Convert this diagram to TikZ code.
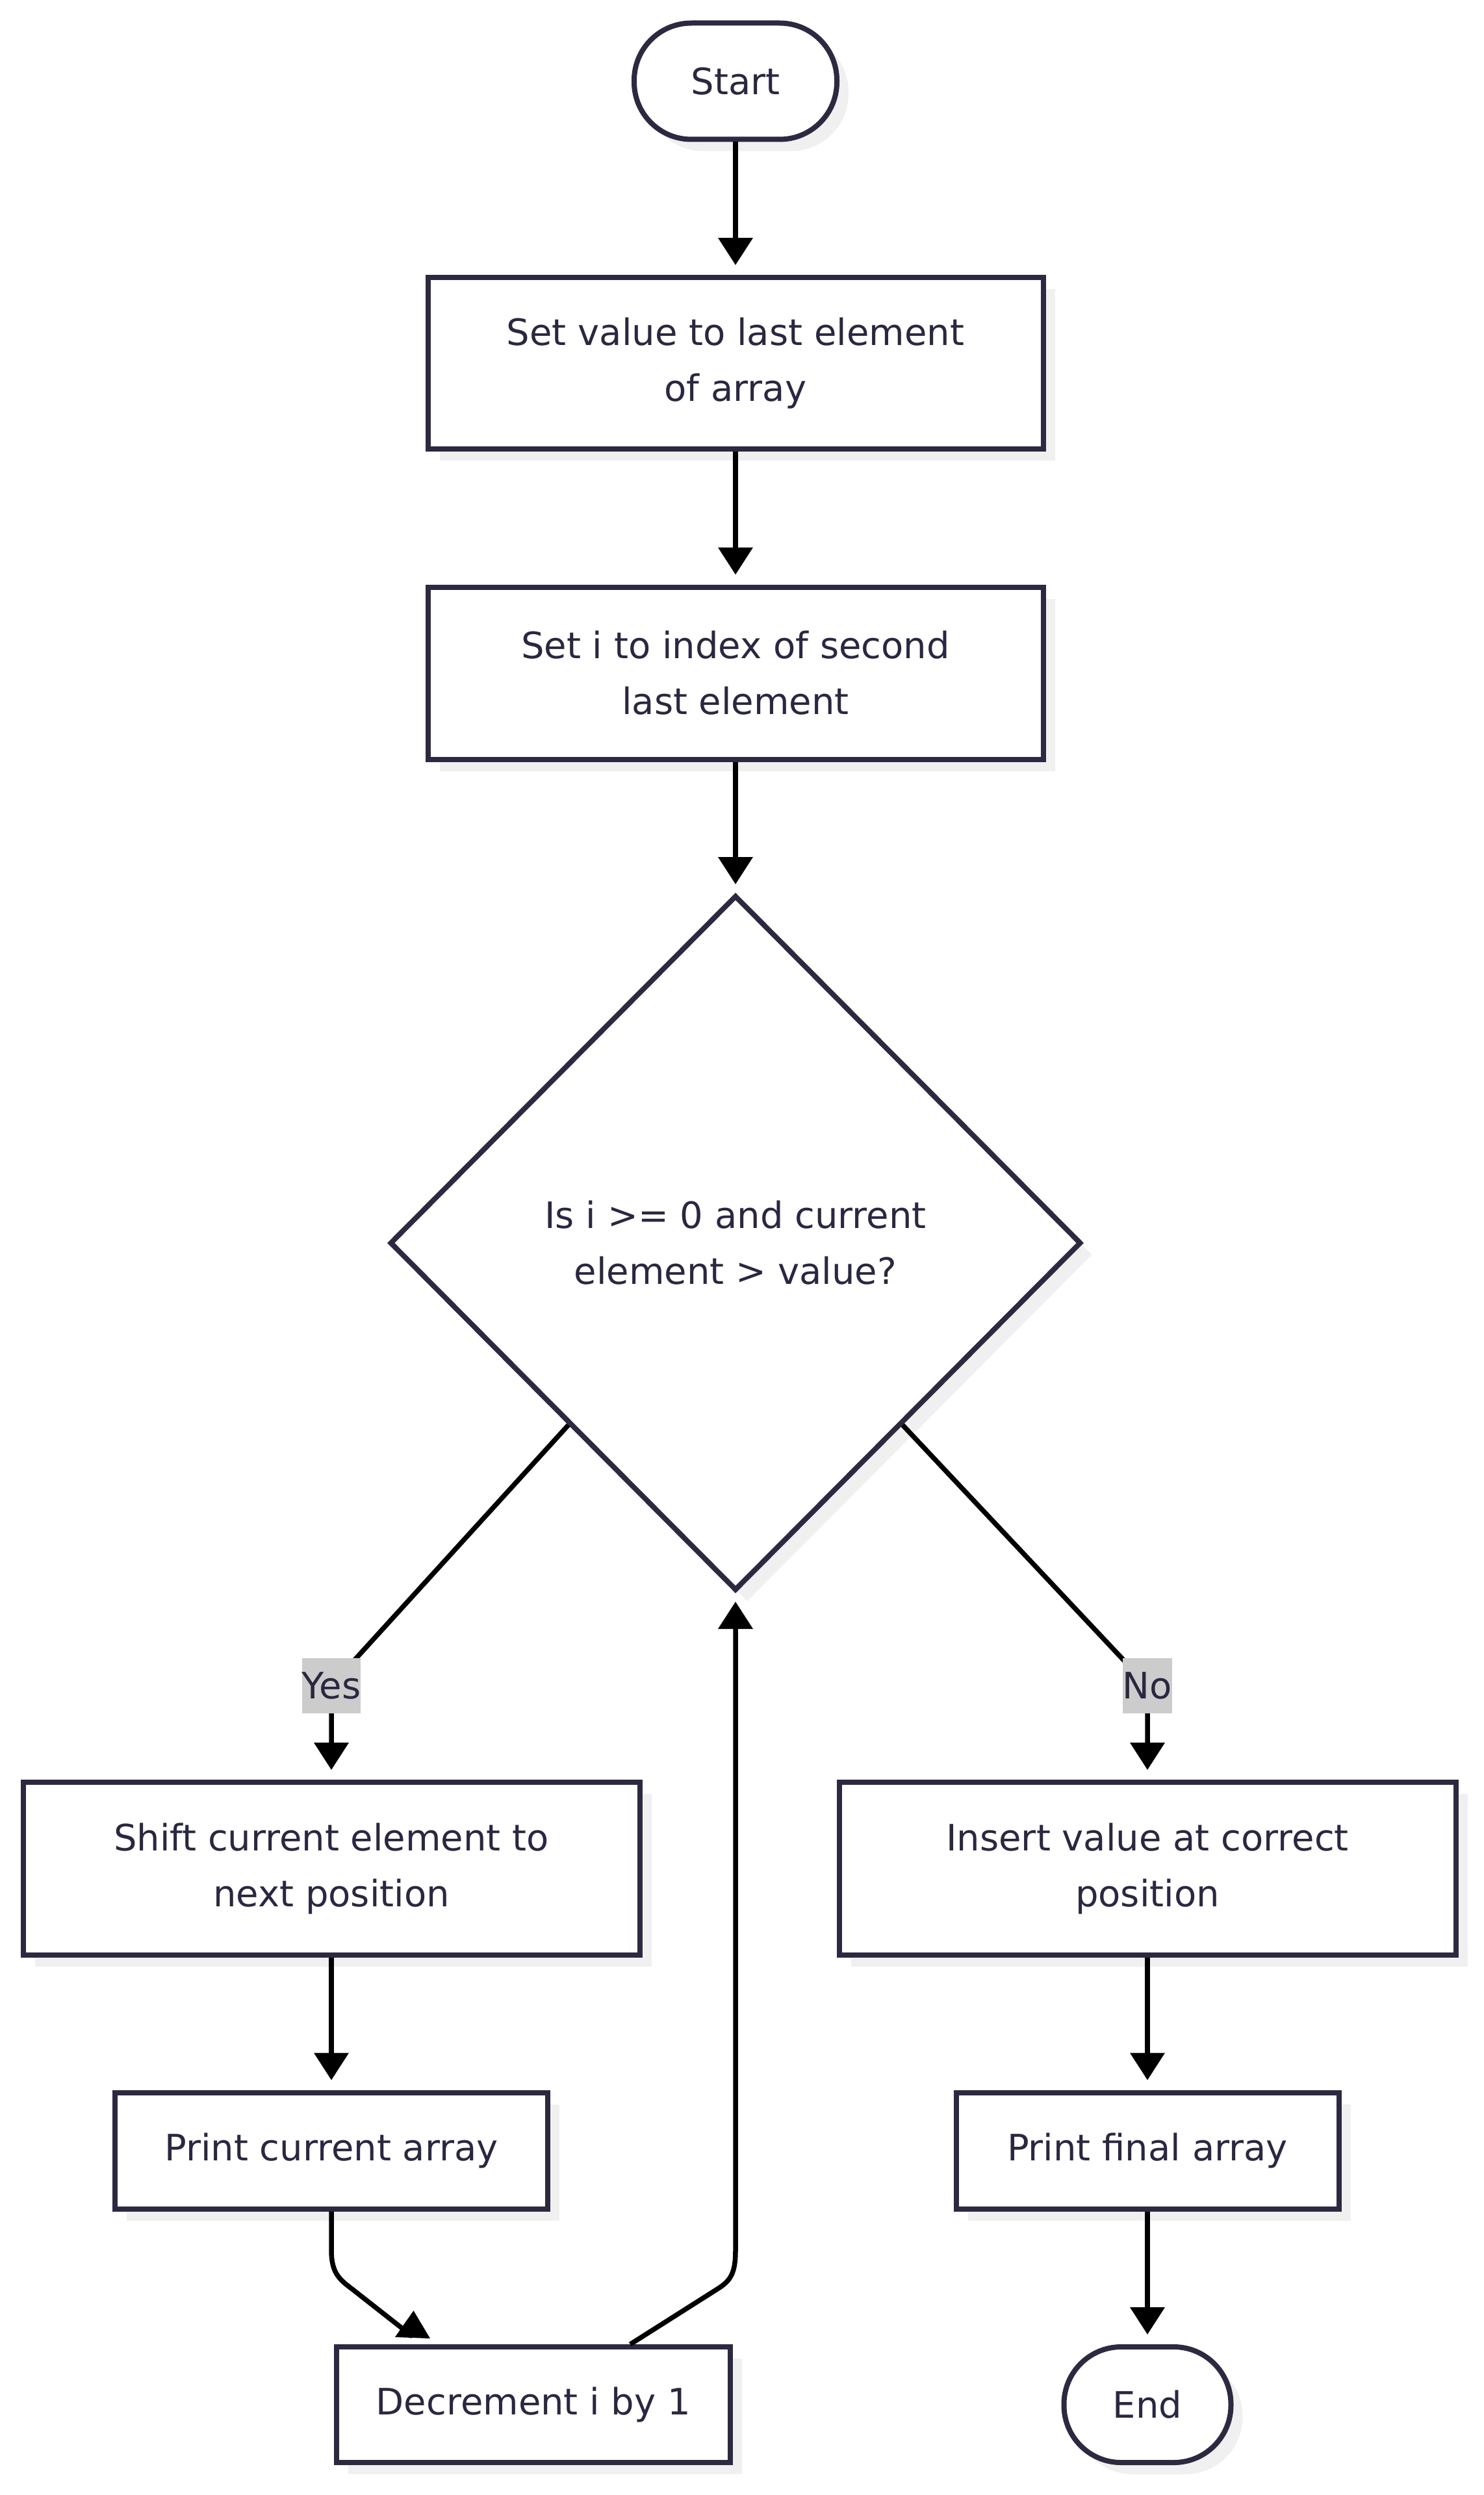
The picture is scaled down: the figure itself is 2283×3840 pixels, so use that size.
\documentclass[tikz,border=0pt]{standalone}
\usepackage{fontspec}
\setmainfont{DejaVu Sans}
\newfontfamily\labelfont{DejaVu Sans}
\usetikzlibrary{shapes.geometric,arrows.meta,shadows,calc}
\definecolor{nodeline}{HTML}{2B2A40}
\definecolor{nodetext}{HTML}{2A2840}
\definecolor{shadowgray}{HTML}{F0F0F0}
\definecolor{labelbg}{HTML}{CCCCCC}
\begin{document}
\begin{tikzpicture}[x=1pt,y=1pt,
  base/.style={draw=nodeline, line width=8pt, fill=white, text=nodetext, inner sep=0pt, align=center,
    font=\fontsize{56}{86}\selectfont,
    drop shadow={shadow xshift=18pt, shadow yshift=-18pt, fill=shadowgray, opacity=1}},
  proc/.style={base, rectangle},
  term/.style={base, rectangle, rounded corners=88pt},
  decision/.style={base, diamond},
  conn/.style={draw=black, line width=7.5pt, line join=round, -{Triangle[length=42pt,width=52pt]}, shorten >=15pt},
  lbl/.style={fill=labelbg, text=nodetext, inner sep=0pt, minimum height=85pt, font=\labelfont\fontsize{56}{85}\selectfont}
]
\useasboundingbox (0,0) rectangle (2283,-3840);

\node[term, minimum width=312pt, minimum height=179pt] (start) at (1132,-125) {Start};
\node[proc, minimum width=947pt, minimum height=264pt] (b1) at (1132,-559) {Set value to last element\\of array};
\node[proc, minimum width=947pt, minimum height=265pt] (b2) at (1132,-1036) {Set i to index of second\\last element};
\node[decision, minimum width=1064pt, minimum height=1070pt] (dia) at (1132,-1913) {Is i >= 0 and current\\element > value?};
\node[proc, minimum width=949pt, minimum height=266pt] (shift) at (510,-2876) {Shift current element to\\next position};
\node[proc, minimum width=949pt, minimum height=266pt] (insert) at (1766,-2876) {Insert value at correct\\position};
\node[proc, minimum width=666pt, minimum height=179pt] (pc) at (510,-3310) {Print current array};
\node[proc, minimum width=589pt, minimum height=179pt] (pf) at (1766,-3310) {Print final array};
\node[proc, minimum width=606pt, minimum height=178pt] (dec) at (821,-3701) {Decrement i by 1};
\node[term, minimum width=257pt, minimum height=178pt] (end) at (1766,-3701) {End};

\coordinate (yesc) at (510,-2594);
\coordinate (noc) at (1766,-2594);

\draw[conn] (start.south) -- (b1.north);
\draw[conn] (b1.south) -- (b2.north);
\draw[conn, shorten >=13pt] (b2.south) -- (dia.north);
\draw[conn] ($(dia.west)!0.52!(dia.south)$) -- (yesc) -- (shift.north);
\draw[conn] ($(dia.east)!0.52!(dia.south)$) -- (noc) -- (insert.north);
\draw[conn] (shift.south) -- (pc.north);
\draw[conn] (insert.south) -- (pf.north);
\draw[conn] (pf.south) -- (end.north);
\draw[conn, shorten >=0pt] (pc.south) -- (510,-3463) .. controls (510,-3498) and (522,-3508) .. (542,-3523) -- (635,-3596) -- (636.5,-3556);
\draw[conn, shorten >=13pt] ([xshift=149pt]dec.north) -- (1104,-3523) .. controls (1125,-3510) and (1132,-3498) .. (1132,-3463) -- (dia.south);

\node[lbl] (yes) at (yesc) {Yes};
\node[lbl] (no) at (noc) {No};
\end{tikzpicture}
\end{document}
